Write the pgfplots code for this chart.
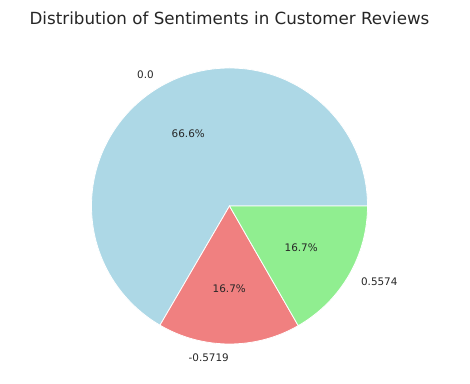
\documentclass[border=0pt]{standalone}
\usepackage{pgfplots}
\usepackage{pgfplotstable}
\pgfplotsset{compat=1.18}
\usepackage{fontspec}
\setmainfont{DejaVu Sans}
\definecolor{pielightblue}{HTML}{ADD8E6}
\definecolor{pielightcoral}{HTML}{F08080}
\definecolor{pielightgreen}{HTML}{90EE90}
\definecolor{txt}{HTML}{262626}
\pgfplotstableread{
label value
0.0 66.6
-0.5719 16.7
0.5574 16.7
}\sentiments
\pgfplotstablegetelem{0}{value}\of\sentiments \let\va\pgfplotsretval
\pgfplotstablegetelem{1}{value}\of\sentiments \let\vb\pgfplotsretval
\pgfplotstablegetelem{2}{value}\of\sentiments \let\vc\pgfplotsretval
\pgfmathsetmacro\tot{\va+\vb+\vc}
\pgfmathsetmacro\aA{\va/\tot*360}
\pgfmathsetmacro\aB{\aA+\vb/\tot*360}
\pgfmathsetmacro\mA{\aA/2}
\pgfmathsetmacro\mB{(\aA+\aB)/2}
\pgfmathsetmacro\mC{(\aB+360)/2}
\begin{document}
\begin{tikzpicture}
\begin{axis}[
  scale only axis, width=470bp, height=383bp,
  xmin=0, xmax=470, ymin=0, ymax=383,
  hide axis, clip=false,
]
\path[fill=white] (axis cs:0,0) rectangle (axis cs:470,383);
\def\cx{229.5}\def\cy{177}\def\R{138}
\fill[pielightblue, draw=white, line width=0.8pt] (axis cs:\cx,\cy) -- (axis cs:{\cx+\R*cos(0)},{\cy+\R*sin(0)}) arc[start angle=0, end angle=\aA, radius=\R bp] -- cycle;
\fill[pielightcoral, draw=white, line width=0.8pt] (axis cs:\cx,\cy) -- (axis cs:{\cx+\R*cos(\aA)},{\cy+\R*sin(\aA)}) arc[start angle=\aA, end angle=\aB, radius=\R bp] -- cycle;
\fill[pielightgreen, draw=white, line width=0.8pt] (axis cs:\cx,\cy) -- (axis cs:{\cx+\R*cos(\aB)},{\cy+\R*sin(\aB)}) arc[start angle=\aB, end angle=360, radius=\R bp] -- cycle;
\begin{scope}[every node/.style={text=txt, font=\fontsize{10.4bp}{12bp}\selectfont, inner sep=0pt}]
\node at (axis cs:{\cx+0.6*\R*cos(\mA)},{\cy+0.6*\R*sin(\mA)}) {66.6\%};
\node at (axis cs:{\cx+0.6*\R*cos(\mB)},{\cy+0.6*\R*sin(\mB)}) {16.7\%};
\node at (axis cs:{\cx+0.6*\R*cos(\mC)},{\cy+0.6*\R*sin(\mC)}) {16.7\%};
\node[anchor=east] at (axis cs:{\cx+1.1*\R*cos(\mA)},{\cy+1.1*\R*sin(\mA)}) {0.0};
\node[anchor=east] at (axis cs:{\cx+1.1*\R*cos(\mB)},{\cy+1.1*\R*sin(\mB)}) {-0.5719};
\node[anchor=west] at (axis cs:{\cx+1.1*\R*cos(\mC)},{\cy+1.1*\R*sin(\mC)}) {0.5574};
\end{scope}
\node[text=txt, font=\fontsize{16.7bp}{20bp}\selectfont, inner sep=0pt] at (axis cs:229.5,365) {Distribution of Sentiments in Customer Reviews};
\end{axis}
\end{tikzpicture}
\end{document}
